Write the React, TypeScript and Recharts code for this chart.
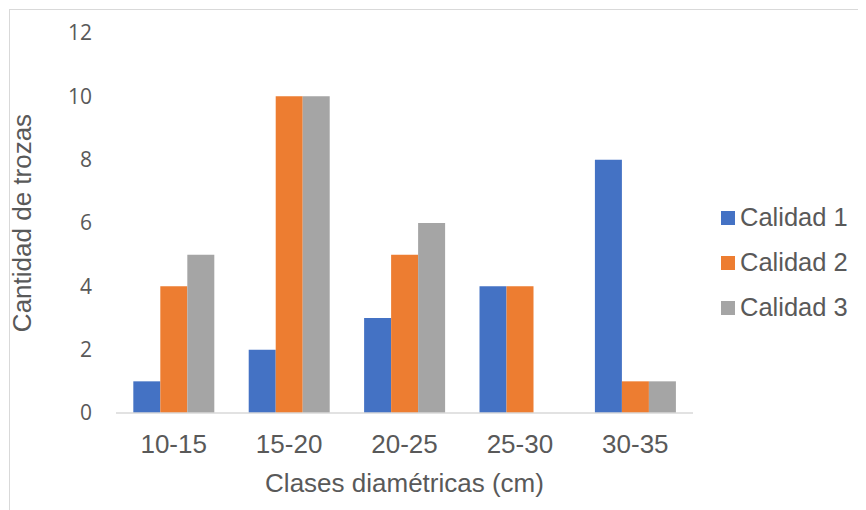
import React from "react";
import { BarChart, Bar, XAxis, YAxis, Legend, Label } from "recharts";

const clases = ["10-15", "15-20", "20-25", "25-30", "30-35"];
const calidad1 = [1, 2, 3, 4, 8];
const calidad2 = [4, 10, 5, 4, 1];
const calidad3 = [5, 10, 6, 0, 1];
const yTicks = [0, 2, 4, 6, 8, 10, 12];

const series = [
  { key: "c1", name: "Calidad 1", color: "#4472C4" },
  { key: "c2", name: "Calidad 2", color: "#ED7D31" },
  { key: "c3", name: "Calidad 3", color: "#A5A5A5" },
];

const data = clases.map((clase, i) => ({
  clase,
  c1: calidad1[i],
  c2: calidad2[i],
  c3: calidad3[i],
}));

const TEXT = "#595959";
const ARIAL = "'Liberation Sans', Arial, sans-serif";

function LegendList() {
  return (
    <div style={{ fontFamily: ARIAL, fontSize: 25.5, color: TEXT }}>
      {series.map((s) => (
        <div key={s.key} style={{ display: "flex", alignItems: "center", height: 45 }}>
          <span style={{ width: 14, height: 14, background: s.color, marginRight: 5 }} />
          <span>{s.name}</span>
        </div>
      ))}
    </div>
  );
}

function YTitle(props: any) {
  const vb = props.viewBox;
  const cx = 14;
  const cy = vb.y + vb.height / 2;
  return (
    <text
      x={cx}
      y={cy}
      transform={`rotate(-90 ${cx} ${cy})`}
      textAnchor="middle"
      dominantBaseline="central"
      fill={TEXT}
      style={{ fontFamily: ARIAL, fontSize: 26 }}
    >
      Cantidad de trozas
    </text>
  );
}

export default function App() {
  return (
    <div style={{ position: "relative", width: 858, height: 502, overflow: "hidden" }}>
      <div
        style={{
          position: "absolute",
          left: 1,
          top: 1,
          width: 1000,
          height: 1000,
          border: "1px solid #D9D9D9",
          pointerEvents: "none",
        }}
      />
      <BarChart
        width={858}
        height={502}
        data={data}
        margin={{ top: 25, right: 173, bottom: 7, left: 0 }}
        barCategoryGap="15%"
        barGap={0}
      >
        <XAxis
          dataKey="clase"
          height={90}
          stroke="#D9D9D9"
          strokeWidth={1.5}
          tickLine={false}
          tickSize={6}
          tickMargin={16}
          tick={{ fill: TEXT, fontSize: 26, fontFamily: ARIAL }}
        >
          <Label
            value="Clases diamétricas (cm)"
            position="insideBottom"
            offset={11}
            fill={TEXT}
            style={{ fontFamily: ARIAL, fontSize: 26 }}
          />
        </XAxis>
        <YAxis
          width={108}
          domain={[0, 12]}
          ticks={yTicks}
          axisLine={false}
          tickLine={false}
          tickSize={6}
          tickMargin={18}
          tick={{ fill: TEXT, fontSize: 21, fontFamily: "'Open Sans', sans-serif" }}
        >
          <Label content={YTitle} />
        </YAxis>
        <Legend
          layout="vertical"
          align="center"
          verticalAlign="middle"
          content={() => <LegendList />}
          wrapperStyle={{ left: 713, top: 187, width: 140 }}
        />
        {series.map((s) => (
          <Bar
            key={s.key}
            dataKey={s.key}
            name={s.name}
            fill={s.color}
            isAnimationActive={false}
          />
        ))}
      </BarChart>
    </div>
  );
}
